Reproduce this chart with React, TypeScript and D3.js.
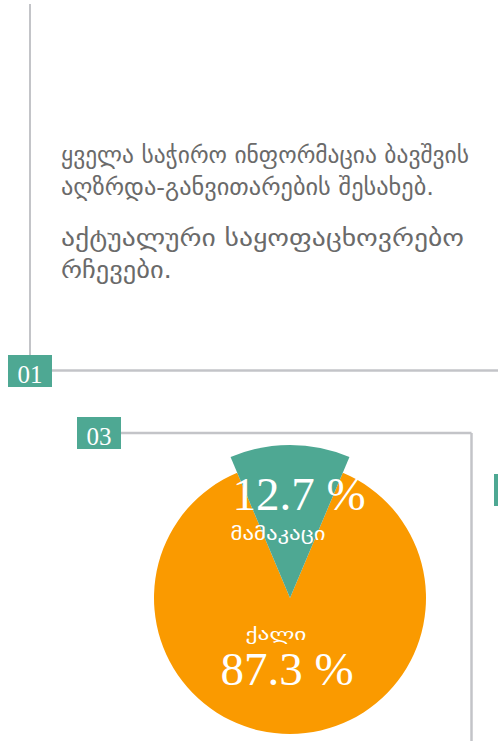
import React from "react";
import * as d3 from "d3";

const paragraphLines: string[] = [
  "ყველა საჭირო ინფორმაცია ბავშვის",
  "აღზრდა-განვითარების შესახებ.",
];
const paragraphLines2: string[] = [
  "აქტუალური საყოფაცხოვრებო",
  "რჩევები.",
];
const paragraphWidths: number[] = [408, 373];
const paragraphWidths2: number[] = [403, 111];
const categories: string[] = ["მამაკაცი", "ქალი"];
const values: number[] = [12.7, 87.3];
const percentLabels: string[] = ["12.7 %", "87.3 %"];
const sectionNumbers: string[] = ["01", "03"];

const W = 498;
const H = 741;
const TEAL = "#4ea893";
const ORANGE = "#fa9a00";
const GRAY = "#c3c4c8";
const TEXT_GRAY = "#6a6a6a";

export default function App() {
  const cx = 290;
  const cy = 598;
  const total = d3.sum(values);
  const half = Math.PI * (values[0] / total);
  const pie = d3
    .pie<number>()
    .sort(null)
    .startAngle(-half)
    .endAngle(2 * Math.PI - half);
  const arcs = pie(values);
  const radii = [153, 136];
  const colors = [TEAL, ORANGE];

  const serif = "'Liberation Serif', 'Times New Roman', serif";
  const geo = "'DejaVu Sans', sans-serif";

  return (
    <svg
      width={W}
      height={H}
      style={{ position: "absolute", left: 0, top: 0 }}
      viewBox={`0 0 ${W} ${H}`}
    >
      <rect width={W} height={H} fill="#fff" />
      {/* section 01 frame */}
      <line x1={30} y1={4} x2={30} y2={360} stroke={GRAY} strokeWidth={2} />
      <line x1={52} y1={370.5} x2={W} y2={370.5} stroke={GRAY} strokeWidth={2.5} />
      <rect x={8} y={355} width={44} height={32} fill={TEAL} />
      <text x={30} y={383} textAnchor="middle" fill="#fff" fontFamily={serif} fontSize={25}>
        {sectionNumbers[0]}
      </text>

      {/* paragraph */}
      <g fill={TEXT_GRAY} fontFamily={geo} fontSize={23}>
        {paragraphLines.map((t, i) => (
          <text
            key={"a" + i}
            x={61}
            y={163 + i * 32}
            textLength={paragraphWidths[i]}
            lengthAdjust="spacingAndGlyphs"
          >
            {t}
          </text>
        ))}
        {paragraphLines2.map((t, i) => (
          <text
            key={"b" + i}
            x={61}
            y={246 + i * 32}
            textLength={paragraphWidths2[i]}
            lengthAdjust="spacingAndGlyphs"
          >
            {t}
          </text>
        ))}
      </g>

      {/* section 03 frame */}
      <line x1={121} y1={433} x2={471.5} y2={433} stroke={GRAY} strokeWidth={2.5} />
      <line x1={471.5} y1={433} x2={471.5} y2={H} stroke={GRAY} strokeWidth={2.5} />
      <rect x={77} y={417} width={44} height={32} fill={TEAL} />
      <text x={99} y={445} textAnchor="middle" fill="#fff" fontFamily={serif} fontSize={25}>
        {sectionNumbers[1]}
      </text>
      <rect x={494} y={474} width={4} height={32} fill={TEAL} />

      {/* pie */}
      <g transform={`translate(${cx},${cy})`}>
        {arcs
          .slice()
          .reverse()
          .map((a) => {
            const i = a.index;
            const path = d3.arc<d3.PieArcDatum<number>>().innerRadius(0).outerRadius(radii[i])(a) || "";
            return <path key={i} d={path} fill={colors[i]} />;
          })}
        <text x={9} y={-88} textAnchor="middle" fill="#fff" fontFamily={serif} fontSize={47}>
          {percentLabels[0]}
        </text>
        <text
          x={-12}
          y={-58}
          textAnchor="middle"
          fill="#fff"
          fontFamily={geo}
          fontSize={18}
          textLength={95}
          lengthAdjust="spacingAndGlyphs"
        >
          {categories[0]}
        </text>
        <text
          x={-14}
          y={42}
          textAnchor="middle"
          fill="#fff"
          fontFamily={geo}
          fontSize={17}
          textLength={61}
          lengthAdjust="spacingAndGlyphs"
        >
          {categories[1]}
        </text>
        <text x={-3} y={87} textAnchor="middle" fill="#fff" fontFamily={serif} fontSize={47}>
          {percentLabels[1]}
        </text>
      </g>
    </svg>
  );
}
